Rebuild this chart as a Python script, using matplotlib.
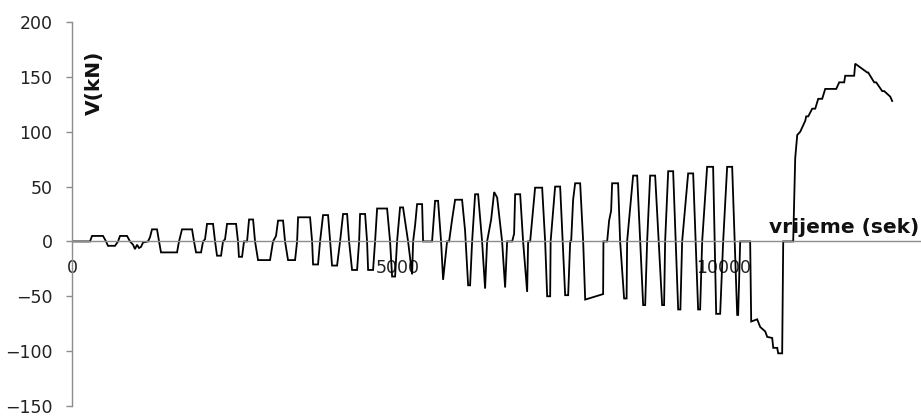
import matplotlib
matplotlib.use("Agg")
import matplotlib.pyplot as plt

# (time in s, shear force V in kN), split by loading phase
small_cycles = [(0, 0), (276, 0), (307, 5), (476, 5), (522, 0), (552, -4), (660, -4), (706, 0),
                (736, 5), (844, 5), (890, 0), (936, -3), (966, -7), (997, -3), (1028, -6),
                (1058, -5), (1089, -1), (1166, 0), (1197, 4), (1227, 11), (1304, 11), (1335, 0),
                (1365, -10), (1611, -10), (1641, 0), (1687, 11), (1841, 11), (1871, 0),
                (1902, -10), (1979, -10), (2010, 0), (2040, 2), (2071, 16), (2163, 16),
                (2194, 0), (2224, -13), (2286, -13), (2316, 0), (2347, 2), (2378, 16),
                (2516, 16), (2546, 0), (2560, -14), (2608, -14), (2638, 0), (2685, 0),
                (2715, 20), (2777, 20), (2807, 0), (2853, -17), (3037, -17), (3083, 0),
                (3129, 5), (3160, 19), (3237, 19), (3267, 0), (3313, -17), (3421, -17),
                (3452, 0), (3467, 22), (3651, 22), (3682, 0), (3697, -21), (3773, -21),
                (3804, 0), (3850, 24), (3927, 24), (3958, 0), (3988, -22), (4065, -22),
                (4111, 0), (4157, 25), (4219, 25), (4249, 0), (4295, -26), (4372, -26),
                (4403, 0), (4418, 25), (4495, 25), (4525, 0), (4541, -26), (4617, -26),
                (4648, 0)]
medium_cycles = [(4679, 30), (4832, 30), (4878, 0), (4909, -32), (4955, -32), (4985, 0),
                 (5031, 31), (5077, 31), (5154, 0), (5216, -30), (5231, 0), (5262, 15),
                 (5292, 34), (5369, 34), (5384, 0), (5522, 0), (5568, 37), (5614, 37),
                 (5660, 0), (5691, -35), (5752, 0), (5783, 0), (5829, 20), (5875, 38),
                 (5982, 38), (6028, 10), (6075, -40), (6105, -40), (6136, 0), (6182, 43),
                 (6228, 43), (6289, 0), (6335, -43), (6366, 0), (6428, 20), (6474, 45),
                 (6520, 40), (6596, 0), (6642, -42), (6673, 0), (6750, 0), (6780, 7),
                 (6796, 43), (6873, 43), (6918, 0), (6980, -46), (6995, 0), (7026, 0),
                 (7072, 30), (7102, 49), (7210, 49), (7256, 0), (7287, -50), (7333, -50),
                 (7340, 0), (7409, 50), (7486, 50), (7563, -49), (7609, -49), (7640, 0),
                 (7655, 0), (7685, 38), (7716, 53), (7793, 53), (7839, 0), (7870, -53),
                 (8145, -48), (8150, 0), (8207, 0)]
large_cycles = [(8237, 19), (8268, 28), (8283, 53), (8375, 53), (8406, 0), (8467, -52),
                (8505, -52), (8513, 0), (8559, 30), (8605, 60), (8667, 60), (8759, -58),
                (8790, -58), (8820, 0), (8866, 60), (8943, 60), (9050, -58), (9080, -58),
                (9096, 0), (9143, 64), (9219, 64), (9296, -62), (9330, -62), (9357, 0),
                (9449, 62), (9526, 62), (9602, -62), (9633, -62), (9664, 0), (9740, 68),
                (9832, 68), (9879, -66), (9940, -66), (9986, 0), (10047, 68), (10124, 68),
                (10201, -67), (10216, -67), (10247, 0), (10400, 0)]
push_negative = [(10416, -73), (10508, -71), (10554, -78), (10631, -82), (10662, -87),
                 (10738, -88), (10754, -97), (10815, -97), (10830, -102), (10891, -102),
                 (10907, 0), (11060, 0)]
push_positive = [(11091, 76), (11122, 97), (11168, 100), (11245, 110), (11260, 114),
                 (11291, 114), (11352, 121), (11398, 121), (11444, 130), (11505, 130),
                 (11551, 139), (11720, 139), (11766, 145), (11842, 145), (11858, 151),
                 (11995, 151), (12011, 162), (12149, 156), (12195, 154), (12210, 154),
                 (12302, 145), (12333, 145), (12425, 137), (12456, 137), (12548, 132),
                 (12578, 128)]

y_ticks = [-150, -100, -50, 0, 50, 100, 150, 200]
x_ticks = [0, 5000, 10000]
x_label = "vrijeme (sek)"
y_label = "V(kN)"

history = small_cycles + medium_cycles + large_cycles + push_negative + push_positive
time_s = [p[0] for p in history]
shear_kN = [p[1] for p in history]

fig = plt.figure(figsize=(9.21, 4.18), dpi=100)
ax = fig.add_axes([72 / 921, 12 / 418, 849 / 921, 384 / 418])

ax.plot(time_s, shear_kN, color="black", lw=1.3, solid_joinstyle="miter")

ax.set_xlim(0, 13020)
ax.set_ylim(-150, 200)
ax.set_yticks(y_ticks)
ax.set_xticks(x_ticks)
ax.set_xticklabels([str(v) for v in x_ticks])

for s in ("top", "right"):
    ax.spines[s].set_visible(False)
ax.spines["bottom"].set_position(("data", 0))
ax.spines["left"].set_color("#8c8c8c")
ax.spines["bottom"].set_color("#8c8c8c")
ax.spines["left"].set_linewidth(1.0)
ax.spines["bottom"].set_linewidth(1.0)

ax.tick_params(axis="y", direction="out", length=4, width=1, color="#8c8c8c",
               labelsize=12.5, pad=10, labelcolor="#222222")
ax.tick_params(axis="x", length=0, labelsize=12.5, pad=13, labelcolor="#222222")

ax.text(337, 145, y_label, rotation=90, ha="center", va="center",
        fontsize=14.5, fontweight="bold", color="#111111")
ax.text(12995, 12.5, x_label, ha="right", va="center",
        fontsize=14.5, fontweight="bold", color="#111111")

fig.savefig("out.png", dpi=100, facecolor="white")
